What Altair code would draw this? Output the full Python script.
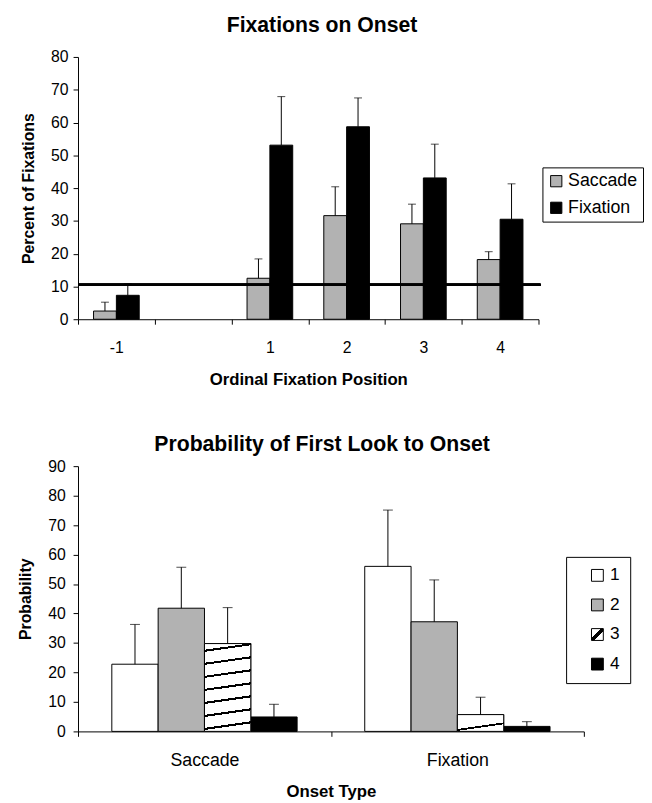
import json
import altair as alt
import pandas as pd

FONT = "Liberation Sans"

# ---------------- top chart data ----------------
positions = ["-1", "0", "1", "2", "3", "4"]          # "0" is an empty slot
top_positions = ["-1", "1", "2", "3", "4"]
top_series = ["Saccade", "Fixation"]
saccade_pct = [2.5, 12.5, 31.6, 29.1, 18.2]
saccade_err = [5.2, 18.4, 40.4, 35.1, 20.6]
fixation_pct = [7.3, 53.1, 58.7, 43.1, 30.5]
fixation_err = [10.8, 67.9, 67.5, 53.4, 41.3]
chance_level = 10.5
top_ticks = [0, 10, 20, 30, 40, 50, 60, 70, 80]

# ---------------- bottom chart data ----------------
onset_types = ["Saccade", "Fixation"]
look_order = ["1", "2", "3", "4"]
prob_saccade = [22.8, 41.8, 29.8, 4.9]
prob_saccade_err = [36.3, 55.7, 42.0, 9.2]
prob_fixation = [56.0, 37.2, 5.7, 1.7]
prob_fixation_err = [75.1, 51.4, 11.6, 3.3]
bottom_ticks = [0, 10, 20, 30, 40, 50, 60, 70, 80, 90]

top_rows = []
for i, p in enumerate(top_positions):
    top_rows.append({"pos": p, "series": "Saccade", "value": saccade_pct[i], "err": saccade_err[i]})
    top_rows.append({"pos": p, "series": "Fixation", "value": fixation_pct[i], "err": fixation_err[i]})
top_df = pd.DataFrame(top_rows)

bot_rows = []
for i, s in enumerate(look_order):
    bot_rows.append({"onset": "Saccade", "look": s, "value": prob_saccade[i], "err": prob_saccade_err[i]})
for i, s in enumerate(look_order):
    bot_rows.append({"onset": "Fixation", "look": s, "value": prob_fixation[i], "err": prob_fixation_err[i]})
bot_df = pd.DataFrame(bot_rows)


def stripes(centers, half, x1, y1, x2, y2):
    stops = [{"offset": 0, "color": "white"}]
    for c in centers:
        a, b = max(c - half, 0.0), min(c + half, 1.0)
        stops += [{"offset": round(a, 4), "color": "white"}, {"offset": round(a, 4), "color": "black"},
                  {"offset": round(b, 4), "color": "black"}, {"offset": round(b, 4), "color": "white"}]
    stops.append({"offset": 1, "color": "white"})
    return {"gradient": "linear", "x1": x1, "y1": y1, "x2": x2, "y2": y2, "stops": stops}


hatch_tall = stripes([0.034 + 0.1473 * i for i in range(7)], 0.012, 0.075, 1, 0, 0)
hatch_short = stripes([0.21], 0.05, 0.394, 1, 0, 0)
hatch_legend = stripes([0.5], 0.09, 1, 1, 0, 0)

GRAY = "#b2b2b2"
TW, TH = 467, 266
BW, BH = 513, 269

# ---------------- top chart ----------------
tx = alt.X("pos:N", scale=alt.Scale(domain=positions, paddingInner=0, paddingOuter=0),
           axis=alt.Axis(title="Ordinal Fixation Position", labelAngle=0, tickBand="extent",
                         labelExpr="datum.value == '0' ? '' : datum.value",
                         labelFontSize=16, labelPadding=16, titlePadding=16))
txo = alt.XOffset("series:N", scale=alt.Scale(domain=top_series, paddingInner=0, paddingOuter=0.68))
top_y_axis = alt.Axis(title="Percent of Fixations", values=top_ticks, labelPadding=5, titlePadding=14)
top_y_scale = alt.Scale(domain=[0, 80], nice=False)
ty = alt.Y("value:Q", scale=top_y_scale, axis=top_y_axis)

top_bars = alt.Chart(top_df).mark_bar(stroke="black", strokeWidth=1).encode(
    x=tx, xOffset=txo, y=ty,
    fill=alt.Fill("series:N", scale=alt.Scale(domain=top_series, range=[GRAY, "black"]),
                  legend=alt.Legend(title=None, orient="none", legendX=471, legendY=112,
                                    padding=5, rowPadding=9, labelFontSize=18,
                                    symbolType="square", symbolSize=130,
                                    symbolStrokeColor="black", symbolStrokeWidth=1,
                                    strokeColor="black", fillColor="white", labelOffset=3)),
)
top_rule = alt.Chart(top_df).mark_rule(color="black", strokeWidth=1).encode(
    x=tx, xOffset=txo, y=ty, y2="err:Q")
top_cap = alt.Chart(top_df).mark_tick(color="black", thickness=1, size=8).encode(
    x=tx, xOffset=txo, y=alt.Y("err:Q", scale=top_y_scale, axis=top_y_axis))
chance = alt.Chart(top_df).mark_rule(color="black", strokeWidth=2).encode(
    y=alt.Y(datum=chance_level, scale=top_y_scale, axis=top_y_axis),
    x=alt.value(0), x2=alt.value(TW + 2))

top = alt.layer(top_bars, top_rule, top_cap, chance).properties(
    width=TW, height=TH,
    title=alt.Title("Fixations on Onset", fontSize=21.5, fontWeight="bold", font=FONT, offset=13, dx=14),
)

# ---------------- bottom chart ----------------
bx = alt.X("onset:N", scale=alt.Scale(domain=onset_types, paddingInner=0, paddingOuter=0),
           axis=alt.Axis(title="Onset Type", labelAngle=0, tickBand="extent",
                         labelFontSize=18, labelPadding=16, titlePadding=14))
bxo = alt.XOffset("look:N", scale=alt.Scale(domain=look_order, paddingInner=0, paddingOuter=0.73))
bot_y_axis = alt.Axis(title="Probability", values=bottom_ticks, labelPadding=8, titlePadding=14)
bot_y_scale = alt.Scale(domain=[0, 90], nice=False)
by = alt.Y("value:Q", scale=bot_y_scale, axis=bot_y_axis)

bot_bars = alt.Chart(bot_df).mark_bar(stroke="black", strokeWidth=1).encode(
    x=bx, xOffset=bxo, y=by,
    fill=alt.Fill("look:N",
                  scale=alt.Scale(domain=look_order,
                                  range=["white", GRAY, alt.ExprRef(expr=json.dumps(hatch_legend)), "black"]),
                  legend=alt.Legend(title=None, orient="none", legendX=495, legendY=92,
                                    padding=10, rowPadding=11, labelFontSize=17.5,
                                    symbolType="square", symbolSize=144, symbolOffset=13,
                                    symbolStrokeColor="black", symbolStrokeWidth=1,
                                    strokeColor="black", fillColor="white", labelOffset=4,
                                    labelExpr="datum.label + '\u00a0\u00a0\u00a0\u00a0'")),
)
bot_hatch = alt.Chart(bot_df).transform_filter("datum.look == '3'").mark_bar(
    stroke="black", strokeWidth=1).encode(
    x=bx, xOffset=bxo, y=by,
    fill=alt.condition("datum.onset == 'Saccade'", alt.value(hatch_tall), alt.value(hatch_short)),
)
bot_rule = alt.Chart(bot_df).mark_rule(color="black", strokeWidth=1).encode(
    x=bx, xOffset=bxo, y=by, y2="err:Q")
bot_cap = alt.Chart(bot_df).mark_tick(color="black", thickness=1, size=10).encode(
    x=bx, xOffset=bxo, y=alt.Y("err:Q", scale=bot_y_scale, axis=bot_y_axis))

bottom = alt.layer(bot_bars, bot_hatch, bot_rule, bot_cap).properties(
    width=BW, height=BH,
    title=alt.Title("Probability of First Look to Onset", fontSize=21.5, fontWeight="bold", font=FONT,
                    offset=3, dx=-9),
)

chart = alt.vconcat(top, bottom, spacing=47).resolve_scale(
    x="independent", xOffset="independent", y="independent", fill="independent"
).resolve_legend(fill="independent").resolve_axis(x="independent", y="independent").properties(
    padding={"left": 10, "top": 1, "right": 0, "bottom": 0},
    background="white",
).configure_view(stroke=None).configure_axis(
    labelFont=FONT, titleFont=FONT, labelFontSize=16, titleFontSize=17, titleFontWeight="bold",
    labelColor="black", titleColor="black", domainColor="black", tickColor="black",
    tickSize=5, grid=False, domainWidth=1, tickWidth=1,
).configure_axisY(titleFontSize=16).configure_legend(
    labelFont=FONT, labelColor="black",
)

chart.save("out.html", embed_options={"renderer": "svg", "actions": False})
